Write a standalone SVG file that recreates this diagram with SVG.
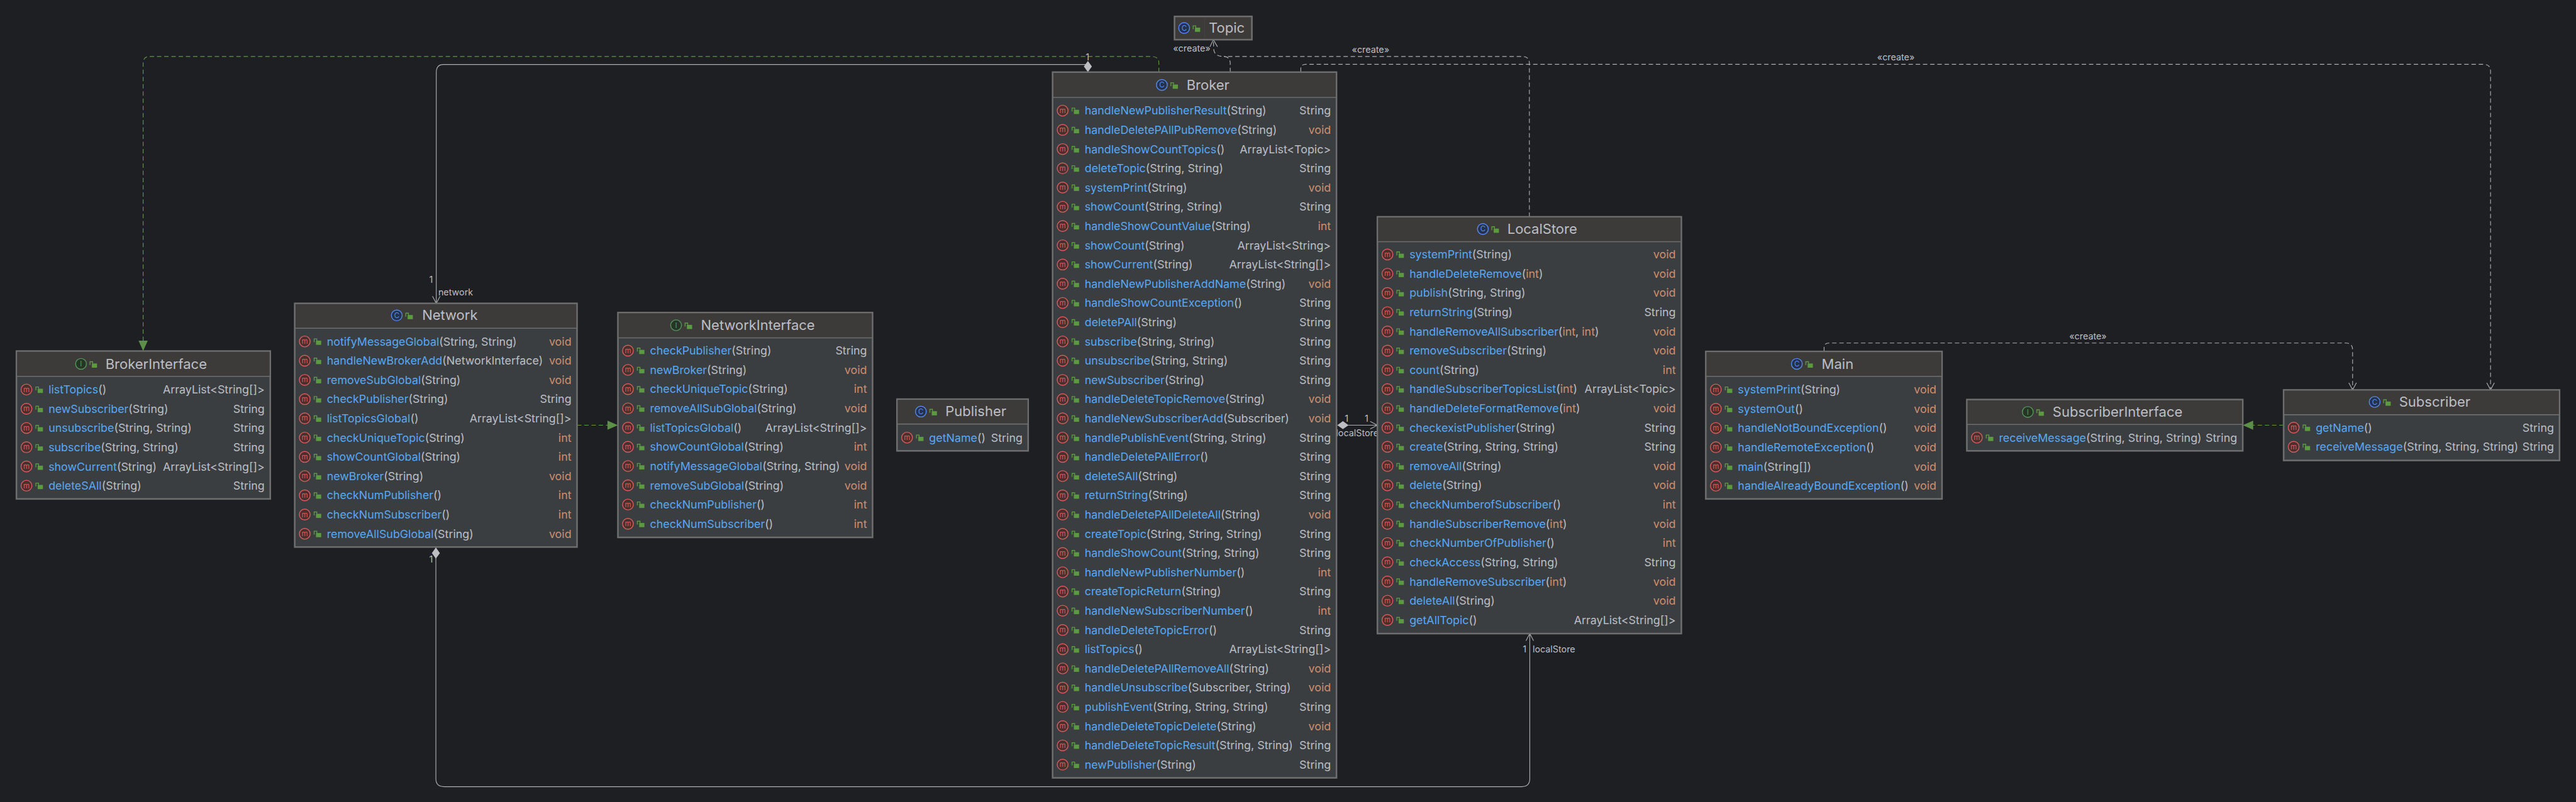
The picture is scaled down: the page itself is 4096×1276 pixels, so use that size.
<svg xmlns="http://www.w3.org/2000/svg" width="4096" height="1276" viewBox="0 0 4096 1276">
<style>
text{font-family:Inter,"Noto Sans","Liberation Sans",sans-serif}
.b{fill:#3b3e41;stroke:#6e6e6e;stroke-width:4}
.h{fill:#3c3b3a}
.s{stroke:#6e6e6e;stroke-width:2.5;fill:none}
.t{font-size:34.500px;fill:#bcbec4}
.n{font-size:28px;fill:#56a8f5}
.g{fill:#bcbec4}
.v{fill:#cf8e6d}
.r{font-size:28px;text-anchor:end}
.l{font-size:22.500px;fill:#bcbec4}
.c{fill:none;stroke-width:1.800;stroke:#adafb3}
.d{stroke-dasharray:11 7}
.gr{stroke:#5f9a45}
</style>
<defs>
<g id="lk"><path d="M-7.500 3V-5.500H-1V-1" fill="none" stroke="#5c9a42" stroke-width="2.200"/><rect x="-3" y="-1" width="13" height="10.500" fill="#5c9a42"/></g>
<g id="r"><circle cx="25" cy="-1" r="13.500" fill="#4a2f2f" stroke="#db5c5c" stroke-width="2.200"/><text x="25" y="5" font-size="18" text-anchor="middle" fill="#db5c5c">m</text><use href="#lk" x="56" y="-2"/></g>
<g id="ic"><circle r="13.500" fill="#25324d" stroke="#548af7" stroke-width="2.200"/><text y="6.500" font-size="18" text-anchor="middle" fill="#548af7">C</text><use href="#lk" x="30"/></g>
<g id="ii"><circle r="13.500" fill="#253627" stroke="#57965c" stroke-width="2.200"/><text y="6.500" font-size="18" text-anchor="middle" fill="#57965c">I</text><use href="#lk" x="30"/></g>
<marker id="oa" markerUnits="userSpaceOnUse" orient="auto" overflow="visible" markerWidth="20" markerHeight="20"><path d="M-18-9.500L0 0L-18 9.500" fill="none" stroke="#adafb3" stroke-width="1.800"/></marker>
<marker id="fa" markerUnits="userSpaceOnUse" orient="auto" overflow="visible" markerWidth="26" markerHeight="24"><path d="M-26-11.500L0 0L-26 11.500Z" fill="#5c8f48"/></marker>
<marker id="di" markerUnits="userSpaceOnUse" orient="auto" overflow="visible" markerWidth="28" markerHeight="20"><path d="M0 0L14-10L28 0L14 10Z" fill="#bcbec4"/></marker>
</defs>
<rect width="4096" height="1276" fill="#1e1f22"/>
<g transform="scale(.63760)">
<g id="connectors">
<path class="c d gr" d="M2890 180V157Q2890 141 2872 141H372Q357 141 357 158V876" marker-end="url(#fa)"/>
<path class="c" d="M2713 180V161H1106Q1088 161 1088 181V757" marker-start="url(#di)" marker-end="url(#oa)"/>
<path class="c" d="M1087 1366V1943Q1087 1963 1107 1963H3795Q3815 1963 3815 1943V1581" marker-start="url(#di)" marker-end="url(#oa)"/>
<path class="c" d="M3335 1061H3435" marker-start="url(#di)" marker-end="url(#oa)"/>
<path class="c d" d="M3068 180V156Q3066 141 3052 141Q3030 141 3027 125L3026 99" marker-end="url(#oa)"/>
<path class="c d" d="M3814 541V156Q3812 141 3798 141H3052"/>
<path class="c d" d="M3244 180V172Q3244 160.500 3256 160.500H6194Q6211 160.500 6211 178V973" marker-end="url(#oa)"/>
<path class="c d" d="M4549 877V868Q4549 856 4561 856H5850Q5867 856 5867 873V973" marker-end="url(#oa)"/>
<path class="c d gr" d="M1439 1061H1541" marker-end="url(#fa)"/>
<path class="c d gr" d="M5695 1061H5593" marker-end="url(#fa)"/>
<text class="l" x="1075" y="705" text-anchor="middle">1</text>
<text class="l" x="1093" y="737">network</text>
<text class="l" x="2712" y="151" text-anchor="middle">1</text>
<text class="l" x="1075" y="1403" text-anchor="middle">1</text>
<text class="l" x="3358" y="1053" text-anchor="middle">1</text>
<text class="l" x="3408" y="1052" text-anchor="middle">1</text>
<text class="l" x="3385" y="1088" text-anchor="middle">localStore</text>
<text class="l" x="3802" y="1628" text-anchor="middle">1</text>
<text class="l" x="3822" y="1628">localStore</text>
<text class="l" x="2972" y="128" text-anchor="middle">«create»</text>
<text class="l" x="3418" y="131" text-anchor="middle">«create»</text>
<text class="l" x="4728" y="151" text-anchor="middle">«create»</text>
<text class="l" x="5207" y="847" text-anchor="middle">«create»</text>
</g>
<g id="BrokerInterface" transform="translate(41,973)">
<rect class="b" y="-97" width="633" height="369"/><rect class="h" x="2" y="-95" width="629" height="61"/><path class="s" d="M0-34H633"/>
<use href="#ii" x="161" y="-65"/><text class="t" x="222" y="-53">BrokerInterface</text>
<use href="#r"/><text class="n" x="80" y="9">listTopics<tspan class="g">()</tspan></text><text class="r g" x="619" y="9">ArrayList&lt;String[]&gt;</text>
<use href="#r" y="48"/><text class="n" x="80" y="57">newSubscriber<tspan class="g">(String)</tspan></text><text class="r g" x="619" y="57">String</text>
<use href="#r" y="96"/><text class="n" x="80" y="105">unsubscribe<tspan class="g">(String, String)</tspan></text><text class="r g" x="619" y="105">String</text>
<use href="#r" y="144"/><text class="n" x="80" y="153">subscribe<tspan class="g">(String, String)</tspan></text><text class="r g" x="619" y="153">String</text>
<use href="#r" y="192"/><text class="n" x="80" y="201">showCurrent<tspan class="g">(String)</tspan></text><text class="r g" x="619" y="201">ArrayList&lt;String[]&gt;</text>
<use href="#r" y="240"/><text class="n" x="80" y="249">deleteSAll<tspan class="g">(String)</tspan></text><text class="r g" x="619" y="249">String</text>
</g>
<g id="Network" transform="translate(735,853)">
<rect class="b" y="-96" width="704" height="608"/><rect class="h" x="2" y="-94" width="700" height="60"/><path class="s" d="M0-34H704"/>
<use href="#ic" x="254.500" y="-66"/><text class="t" x="317.600" y="-54">Network</text>
<use href="#r"/><text class="n" x="80" y="9">notifyMessageGlobal<tspan class="g">(String, String)</tspan></text><text class="r v" x="690" y="9">void</text>
<use href="#r" y="48"/><text class="n" x="80" y="57">handleNewBrokerAdd<tspan class="g">(NetworkInterface)</tspan></text><text class="r v" x="690" y="57">void</text>
<use href="#r" y="96"/><text class="n" x="80" y="105">removeSubGlobal<tspan class="g">(String)</tspan></text><text class="r v" x="690" y="105">void</text>
<use href="#r" y="144"/><text class="n" x="80" y="153">checkPublisher<tspan class="g">(String)</tspan></text><text class="r g" x="690" y="153">String</text>
<use href="#r" y="192"/><text class="n" x="80" y="201">listTopicsGlobal<tspan class="g">()</tspan></text><text class="r g" x="690" y="201">ArrayList&lt;String[]&gt;</text>
<use href="#r" y="240"/><text class="n" x="80" y="249">checkUniqueTopic<tspan class="g">(String)</tspan></text><text class="r v" x="690" y="249">int</text>
<use href="#r" y="288"/><text class="n" x="80" y="297">showCountGlobal<tspan class="g">(String)</tspan></text><text class="r v" x="690" y="297">int</text>
<use href="#r" y="336"/><text class="n" x="80" y="345">newBroker<tspan class="g">(String)</tspan></text><text class="r v" x="690" y="345">void</text>
<use href="#r" y="384"/><text class="n" x="80" y="393">checkNumPublisher<tspan class="g">()</tspan></text><text class="r v" x="690" y="393">int</text>
<use href="#r" y="432"/><text class="n" x="80" y="441">checkNumSubscriber<tspan class="g">()</tspan></text><text class="r v" x="690" y="441">int</text>
<use href="#r" y="480"/><text class="n" x="80" y="489">removeAllSubGlobal<tspan class="g">(String)</tspan></text><text class="r v" x="690" y="489">void</text>
</g>
<g id="NetworkInterface" transform="translate(1541,876)">
<rect class="b" y="-96" width="635" height="561"/><rect class="h" x="2" y="-94" width="631" height="61"/><path class="s" d="M0-33H635"/>
<use href="#ii" x="145" y="-64.400"/><text class="t" x="207" y="-53">NetworkInterface</text>
<use href="#r"/><text class="n" x="80" y="9">checkPublisher<tspan class="g">(String)</tspan></text><text class="r g" x="621" y="9">String</text>
<use href="#r" y="48"/><text class="n" x="80" y="57">newBroker<tspan class="g">(String)</tspan></text><text class="r v" x="621" y="57">void</text>
<use href="#r" y="96"/><text class="n" x="80" y="105">checkUniqueTopic<tspan class="g">(String)</tspan></text><text class="r v" x="621" y="105">int</text>
<use href="#r" y="144"/><text class="n" x="80" y="153">removeAllSubGlobal<tspan class="g">(String)</tspan></text><text class="r v" x="621" y="153">void</text>
<use href="#r" y="192"/><text class="n" x="80" y="201">listTopicsGlobal<tspan class="g">()</tspan></text><text class="r g" x="621" y="201">ArrayList&lt;String[]&gt;</text>
<use href="#r" y="240"/><text class="n" x="80" y="249">showCountGlobal<tspan class="g">(String)</tspan></text><text class="r v" x="621" y="249">int</text>
<use href="#r" y="288"/><text class="n" x="80" y="297">notifyMessageGlobal<tspan class="g">(String, String)</tspan></text><text class="r v" x="621" y="297">void</text>
<use href="#r" y="336"/><text class="n" x="80" y="345">removeSubGlobal<tspan class="g">(String)</tspan></text><text class="r v" x="621" y="345">void</text>
<use href="#r" y="384"/><text class="n" x="80" y="393">checkNumPublisher<tspan class="g">()</tspan></text><text class="r v" x="621" y="393">int</text>
<use href="#r" y="432"/><text class="n" x="80" y="441">checkNumSubscriber<tspan class="g">()</tspan></text><text class="r v" x="621" y="441">int</text>
</g>
<g id="Publisher" transform="translate(2237,1093)">
<rect class="b" y="-97" width="327" height="129"/><rect class="h" x="2" y="-95" width="323" height="60"/><path class="s" d="M0-35H327"/>
<use href="#ic" x="59.500" y="-66"/><text class="t" x="120.500" y="-54">Publisher</text>
<use href="#r"/><text class="n" x="80" y="9">getName<tspan class="g">()</tspan></text><text class="r g" x="313" y="9">String</text>
</g>
<g id="Topic" transform="translate(2929,70)">
<rect class="b" y="-29" width="193" height="58" style="fill:#3c3b3a"/><path d="M75-27V27" stroke="#454545" stroke-width="1.500"/>
<use href="#ic" x="24"/><text class="t" x="85.500" y="12">Topic</text>
</g>
<g id="Broker" transform="translate(2625,277)">
<rect class="b" y="-97" width="708" height="1761"/><rect class="h" x="2" y="-95" width="704" height="61"/><path class="s" d="M0-34H708"/>
<use href="#ic" x="272.500" y="-65"/><text class="t" x="334" y="-53">Broker</text>
<use href="#r"/><text class="n" x="80" y="9">handleNewPublisherResult<tspan class="g">(String)</tspan></text><text class="r g" x="694" y="9">String</text>
<use href="#r" y="48"/><text class="n" x="80" y="57">handleDeletePAllPubRemove<tspan class="g">(String)</tspan></text><text class="r v" x="694" y="57">void</text>
<use href="#r" y="96"/><text class="n" x="80" y="105">handleShowCountTopics<tspan class="g">()</tspan></text><text class="r g" x="694" y="105">ArrayList&lt;Topic&gt;</text>
<use href="#r" y="144"/><text class="n" x="80" y="153">deleteTopic<tspan class="g">(String, String)</tspan></text><text class="r g" x="694" y="153">String</text>
<use href="#r" y="192"/><text class="n" x="80" y="201">systemPrint<tspan class="g">(String)</tspan></text><text class="r v" x="694" y="201">void</text>
<use href="#r" y="240"/><text class="n" x="80" y="249">showCount<tspan class="g">(String, String)</tspan></text><text class="r g" x="694" y="249">String</text>
<use href="#r" y="288"/><text class="n" x="80" y="297">handleShowCountValue<tspan class="g">(String)</tspan></text><text class="r v" x="694" y="297">int</text>
<use href="#r" y="336"/><text class="n" x="80" y="345">showCount<tspan class="g">(String)</tspan></text><text class="r g" x="694" y="345">ArrayList&lt;String&gt;</text>
<use href="#r" y="384"/><text class="n" x="80" y="393">showCurrent<tspan class="g">(String)</tspan></text><text class="r g" x="694" y="393">ArrayList&lt;String[]&gt;</text>
<use href="#r" y="432"/><text class="n" x="80" y="441">handleNewPublisherAddName<tspan class="g">(String)</tspan></text><text class="r v" x="694" y="441">void</text>
<use href="#r" y="480"/><text class="n" x="80" y="489">handleShowCountException<tspan class="g">()</tspan></text><text class="r g" x="694" y="489">String</text>
<use href="#r" y="528"/><text class="n" x="80" y="537">deletePAll<tspan class="g">(String)</tspan></text><text class="r g" x="694" y="537">String</text>
<use href="#r" y="576"/><text class="n" x="80" y="585">subscribe<tspan class="g">(String, String)</tspan></text><text class="r g" x="694" y="585">String</text>
<use href="#r" y="624"/><text class="n" x="80" y="633">unsubscribe<tspan class="g">(String, String)</tspan></text><text class="r g" x="694" y="633">String</text>
<use href="#r" y="672"/><text class="n" x="80" y="681">newSubscriber<tspan class="g">(String)</tspan></text><text class="r g" x="694" y="681">String</text>
<use href="#r" y="720"/><text class="n" x="80" y="729">handleDeleteTopicRemove<tspan class="g">(String)</tspan></text><text class="r v" x="694" y="729">void</text>
<use href="#r" y="768"/><text class="n" x="80" y="777">handleNewSubscriberAdd<tspan class="g">(Subscriber)</tspan></text><text class="r v" x="694" y="777">void</text>
<use href="#r" y="816"/><text class="n" x="80" y="825">handlePublishEvent<tspan class="g">(String, String)</tspan></text><text class="r g" x="694" y="825">String</text>
<use href="#r" y="864"/><text class="n" x="80" y="873">handleDeletePAllError<tspan class="g">()</tspan></text><text class="r g" x="694" y="873">String</text>
<use href="#r" y="912"/><text class="n" x="80" y="921">deleteSAll<tspan class="g">(String)</tspan></text><text class="r g" x="694" y="921">String</text>
<use href="#r" y="960"/><text class="n" x="80" y="969">returnString<tspan class="g">(String)</tspan></text><text class="r g" x="694" y="969">String</text>
<use href="#r" y="1008"/><text class="n" x="80" y="1017">handleDeletePAllDeleteAll<tspan class="g">(String)</tspan></text><text class="r v" x="694" y="1017">void</text>
<use href="#r" y="1056"/><text class="n" x="80" y="1065">createTopic<tspan class="g">(String, String, String)</tspan></text><text class="r g" x="694" y="1065">String</text>
<use href="#r" y="1104"/><text class="n" x="80" y="1113">handleShowCount<tspan class="g">(String, String)</tspan></text><text class="r g" x="694" y="1113">String</text>
<use href="#r" y="1152"/><text class="n" x="80" y="1161">handleNewPublisherNumber<tspan class="g">()</tspan></text><text class="r v" x="694" y="1161">int</text>
<use href="#r" y="1200"/><text class="n" x="80" y="1209">createTopicReturn<tspan class="g">(String)</tspan></text><text class="r g" x="694" y="1209">String</text>
<use href="#r" y="1248"/><text class="n" x="80" y="1257">handleNewSubscriberNumber<tspan class="g">()</tspan></text><text class="r v" x="694" y="1257">int</text>
<use href="#r" y="1296"/><text class="n" x="80" y="1305">handleDeleteTopicError<tspan class="g">()</tspan></text><text class="r g" x="694" y="1305">String</text>
<use href="#r" y="1344"/><text class="n" x="80" y="1353">listTopics<tspan class="g">()</tspan></text><text class="r g" x="694" y="1353">ArrayList&lt;String[]&gt;</text>
<use href="#r" y="1392"/><text class="n" x="80" y="1401">handleDeletePAllRemoveAll<tspan class="g">(String)</tspan></text><text class="r v" x="694" y="1401">void</text>
<use href="#r" y="1440"/><text class="n" x="80" y="1449">handleUnsubscribe<tspan class="g">(Subscriber, String)</tspan></text><text class="r v" x="694" y="1449">void</text>
<use href="#r" y="1488"/><text class="n" x="80" y="1497">publishEvent<tspan class="g">(String, String, String)</tspan></text><text class="r g" x="694" y="1497">String</text>
<use href="#r" y="1536"/><text class="n" x="80" y="1545">handleDeleteTopicDelete<tspan class="g">(String)</tspan></text><text class="r v" x="694" y="1545">void</text>
<use href="#r" y="1584"/><text class="n" x="80" y="1593">handleDeleteTopicResult<tspan class="g">(String, String)</tspan></text><text class="r g" x="694" y="1593">String</text>
<use href="#r" y="1632"/><text class="n" x="80" y="1641">newPublisher<tspan class="g">(String)</tspan></text><text class="r g" x="694" y="1641">String</text>
</g>
<g id="LocalStore" transform="translate(3435,636)">
<rect class="b" y="-95" width="758" height="1040"/><rect class="h" x="2" y="-93" width="754" height="60"/><path class="s" d="M0-33H758"/>
<use href="#ic" x="263" y="-64.600"/><text class="t" x="324" y="-53">LocalStore</text>
<use href="#r"/><text class="n" x="80" y="9">systemPrint<tspan class="g">(String)</tspan></text><text class="r v" x="744" y="9">void</text>
<use href="#r" y="48"/><text class="n" x="80" y="57">handleDeleteRemove<tspan class="g">(<tspan class="v">int</tspan>)</tspan></text><text class="r v" x="744" y="57">void</text>
<use href="#r" y="96"/><text class="n" x="80" y="105">publish<tspan class="g">(String, String)</tspan></text><text class="r v" x="744" y="105">void</text>
<use href="#r" y="144"/><text class="n" x="80" y="153">returnString<tspan class="g">(String)</tspan></text><text class="r g" x="744" y="153">String</text>
<use href="#r" y="192"/><text class="n" x="80" y="201">handleRemoveAllSubscriber<tspan class="g">(<tspan class="v">int</tspan>, <tspan class="v">int</tspan>)</tspan></text><text class="r v" x="744" y="201">void</text>
<use href="#r" y="240"/><text class="n" x="80" y="249">removeSubscriber<tspan class="g">(String)</tspan></text><text class="r v" x="744" y="249">void</text>
<use href="#r" y="288"/><text class="n" x="80" y="297">count<tspan class="g">(String)</tspan></text><text class="r v" x="744" y="297">int</text>
<use href="#r" y="336"/><text class="n" x="80" y="345">handleSubscriberTopicsList<tspan class="g">(<tspan class="v">int</tspan>)</tspan></text><text class="r g" x="744" y="345">ArrayList&lt;Topic&gt;</text>
<use href="#r" y="384"/><text class="n" x="80" y="393">handleDeleteFormatRemove<tspan class="g">(<tspan class="v">int</tspan>)</tspan></text><text class="r v" x="744" y="393">void</text>
<use href="#r" y="432"/><text class="n" x="80" y="441">checkexistPublisher<tspan class="g">(String)</tspan></text><text class="r g" x="744" y="441">String</text>
<use href="#r" y="480"/><text class="n" x="80" y="489">create<tspan class="g">(String, String, String)</tspan></text><text class="r g" x="744" y="489">String</text>
<use href="#r" y="528"/><text class="n" x="80" y="537">removeAll<tspan class="g">(String)</tspan></text><text class="r v" x="744" y="537">void</text>
<use href="#r" y="576"/><text class="n" x="80" y="585">delete<tspan class="g">(String)</tspan></text><text class="r v" x="744" y="585">void</text>
<use href="#r" y="624"/><text class="n" x="80" y="633">checkNumberofSubscriber<tspan class="g">()</tspan></text><text class="r v" x="744" y="633">int</text>
<use href="#r" y="672"/><text class="n" x="80" y="681">handleSubscriberRemove<tspan class="g">(<tspan class="v">int</tspan>)</tspan></text><text class="r v" x="744" y="681">void</text>
<use href="#r" y="720"/><text class="n" x="80" y="729">checkNumberOfPublisher<tspan class="g">()</tspan></text><text class="r v" x="744" y="729">int</text>
<use href="#r" y="768"/><text class="n" x="80" y="777">checkAccess<tspan class="g">(String, String)</tspan></text><text class="r g" x="744" y="777">String</text>
<use href="#r" y="816"/><text class="n" x="80" y="825">handleRemoveSubscriber<tspan class="g">(<tspan class="v">int</tspan>)</tspan></text><text class="r v" x="744" y="825">void</text>
<use href="#r" y="864"/><text class="n" x="80" y="873">deleteAll<tspan class="g">(String)</tspan></text><text class="r v" x="744" y="873">void</text>
<use href="#r" y="912"/><text class="n" x="80" y="921">getAllTopic<tspan class="g">()</tspan></text><text class="r g" x="744" y="921">ArrayList&lt;String[]&gt;</text>
</g>
<g id="Main" transform="translate(4254,973)">
<rect class="b" y="-96" width="589" height="368"/><rect class="h" x="2" y="-94" width="585" height="60"/><path class="s" d="M0-34H589"/>
<use href="#ic" x="227" y="-65"/><text class="t" x="289" y="-53">Main</text>
<use href="#r"/><text class="n" x="80" y="9">systemPrint<tspan class="g">(String)</tspan></text><text class="r v" x="575" y="9">void</text>
<use href="#r" y="48"/><text class="n" x="80" y="57">systemOut<tspan class="g">()</tspan></text><text class="r v" x="575" y="57">void</text>
<use href="#r" y="96"/><text class="n" x="80" y="105">handleNotBoundException<tspan class="g">()</tspan></text><text class="r v" x="575" y="105">void</text>
<use href="#r" y="144"/><text class="n" x="80" y="153">handleRemoteException<tspan class="g">()</tspan></text><text class="r v" x="575" y="153">void</text>
<use href="#r" y="192"/><text class="n" x="80" y="201">main<tspan class="g">(String[])</tspan></text><text class="r v" x="575" y="201">void</text>
<use href="#r" y="240"/><text class="n" x="80" y="249">handleAlreadyBoundException<tspan class="g">()</tspan></text><text class="r v" x="575" y="249">void</text>
</g>
<g id="SubscriberInterface" transform="translate(4905,1093)">
<rect class="b" y="-96" width="688" height="128"/><rect class="h" x="2" y="-94" width="684" height="60"/><path class="s" d="M0-34H688"/>
<use href="#ii" x="152" y="-65"/><text class="t" x="214" y="-53">SubscriberInterface</text>
<use href="#r"/><text class="n" x="80" y="9">receiveMessage<tspan class="g">(String, String, String)</tspan></text><text class="r g" x="674" y="9">String</text>
</g>
<g id="Subscriber" transform="translate(5695,1068)">
<rect class="b" y="-95" width="688" height="176"/><rect class="h" x="2" y="-93" width="684" height="60"/><path class="s" d="M0-33H688"/>
<use href="#ic" x="227" y="-65"/><text class="t" x="288" y="-53">Subscriber</text>
<use href="#r"/><text class="n" x="80" y="9">getName<tspan class="g">()</tspan></text><text class="r g" x="674" y="9">String</text>
<use href="#r" y="48"/><text class="n" x="80" y="57">receiveMessage<tspan class="g">(String, String, String)</tspan></text><text class="r g" x="674" y="57">String</text>
</g>
</g>
</svg>
